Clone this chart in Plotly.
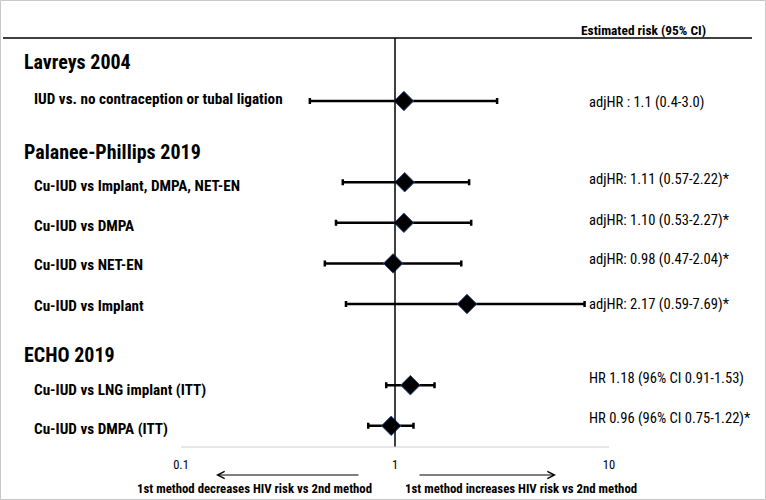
import plotly.graph_objects as go

# ---- data ----
studies = ["Lavreys 2004", "Palanee-Phillips 2019", "ECHO 2019"]
labels = [
    "IUD vs. no contraception or tubal ligation",
    "Cu-IUD vs Implant, DMPA, NET-EN",
    "Cu-IUD vs DMPA",
    "Cu-IUD vs NET-EN",
    "Cu-IUD vs Implant",
    "Cu-IUD vs LNG implant (ITT)",
    "Cu-IUD vs DMPA (ITT)",
]
hr = [1.1, 1.11, 1.10, 0.98, 2.17, 1.18, 0.96]
ci_low = [0.4, 0.57, 0.53, 0.47, 0.59, 0.91, 0.75]
ci_high = [3.0, 2.22, 2.27, 2.04, 7.69, 1.53, 1.22]
estimates = [
    "adjHR : 1.1 (0.4-3.0)",
    "adjHR: 1.11 (0.57-2.22)*",
    "adjHR: 1.10 (0.53-2.27)*",
    "adjHR: 0.98 (0.47-2.04)*",
    "adjHR: 2.17 (0.59-7.69)*",
    "HR 1.18 (96% CI 0.91-1.53)",
    "HR 0.96 (96% CI 0.75-1.22)*",
]
tick_vals = [0.1, 1, 10]
tick_text = ["0.1", "1", "10"]
header = "Estimated risk (95% CI)"
left_note = "1st method decreases HIV risk vs 2nd method"
right_note = "1st method increases HIV risk vs 2nd method"

# ---- layout helpers ----
row_slot = [1, 3, 4, 5, 6, 8, 9]
heading_slot = [0.04, 2.26, 7.26]
label_dy = [2, -4, -3, -2, -2, -5, -3]
est_dy = [-1, 3, 3, 4, 0, 7, 8]

W, H = 766, 500
MB = 53
PH = H - MB
FONT = "Liberation Sans Narrow, Roboto Condensed, Arial Narrow, Lato, sans-serif"

def ypaper(px):
    return 1 - px / PH

fig = go.Figure()
fig.add_trace(go.Scatter(
    x=hr, y=row_slot, mode="markers",
    marker=dict(symbol="diamond", size=15, color="black",
                line=dict(color="#2f4f8a", width=1)),
    error_x=dict(type="data", symmetric=False,
                 array=[h - m for h, m in zip(ci_high, hr)],
                 arrayminus=[m - l for m, l in zip(hr, ci_low)],
                 color="black", thickness=2.5, width=3),
    hoverinfo="skip", showlegend=False,
))

ann = []
for s, ys in zip(studies, heading_slot):
    ann.append(dict(x=22 / W, xref="paper", y=ys, yref="y", text="<b>" + s + "</b>",
                    showarrow=False, xanchor="left", yanchor="middle",
                    font=dict(size=20, color="black", family=FONT)))
for lab, ys, dy in zip(labels, row_slot, label_dy):
    ann.append(dict(x=32 / W, xref="paper", y=ys, yref="y", text="<b>" + lab + "</b>",
                    showarrow=False, xanchor="left", yanchor="middle", yshift=dy,
                    font=dict(size=15.2, color="black", family=FONT)))
for est, ys, dy in zip(estimates, row_slot, est_dy):
    ann.append(dict(x=587 / W, xref="paper", y=ys, yref="y", text=est,
                    showarrow=False, xanchor="left", yanchor="middle", yshift=dy,
                    font=dict(size=14.6, color="black", family=FONT)))
ann.append(dict(x=579 / W, xref="paper", y=ypaper(30), yref="paper", text="<b>" + header + "</b>",
                showarrow=False, xanchor="left", yanchor="middle",
                font=dict(size=13.4, color="black", family=FONT)))
ann.append(dict(x=254 / W, xref="paper", y=ypaper(488), yref="paper", text="<b>" + left_note + "</b>",
                showarrow=False, xanchor="center", yanchor="middle",
                font=dict(size=12.8, color="black", family=FONT)))
ann.append(dict(x=521 / W, xref="paper", y=ypaper(488), yref="paper", text="<b>" + right_note + "</b>",
                showarrow=False, xanchor="center", yanchor="middle",
                font=dict(size=12.8, color="black", family=FONT)))
# arrows
ann.append(dict(x=216 / W, xref="paper", y=ypaper(475), yref="paper", text="",
                showarrow=True, ax=144, ay=0, arrowhead=5, arrowsize=1.4,
                arrowwidth=1, arrowcolor="black"))
ann.append(dict(x=556 / W, xref="paper", y=ypaper(475), yref="paper", text="",
                showarrow=True, ax=-138, ay=0, arrowhead=5, arrowsize=1.4,
                arrowwidth=1, arrowcolor="black"))

shapes = [
    # top rule
    dict(type="line", xref="paper", yref="paper", x0=3 / W, x1=752 / W,
         y0=ypaper(38), y1=ypaper(38), line=dict(color="black", width=1.5)),
    # line of no effect
    dict(type="line", xref="x", yref="paper", x0=1, x1=1,
         y0=0, y1=ypaper(38), line=dict(color="black", width=1.5)),
    # axis line
    dict(type="line", xref="x", yref="paper", x0=0.1, x1=10,
         y0=0, y1=0, line=dict(color="#d0d0d0", width=1)),
    # frame
    dict(type="rect", xref="paper", yref="paper", x0=0.5 / W, x1=(W - 0.5) / W,
         y0=ypaper(H - 0.5), y1=ypaper(0.5), line=dict(color="#c8c8c8", width=1)),
]

r0 = -1 - 181 / 214
r1 = r0 + W / 214
k0 = (0 - 101) / 40.6 + 1
k1 = (PH - 101) / 40.6 + 1

fig.update_layout(
    width=W, height=H,
    margin=dict(l=0, r=0, t=0, b=MB),
    paper_bgcolor="white", plot_bgcolor="white",
    xaxis=dict(type="log", range=[r0, r1], tickvals=tick_vals, ticktext=tick_text,
               showgrid=False, zeroline=False, showline=False,
               ticks="outside", ticklen=6, tickcolor="rgba(0,0,0,0)",
               tickfont=dict(size=12.5, color="black", family=FONT), fixedrange=True),
    yaxis=dict(range=[k1, k0], showgrid=False, zeroline=False, showline=False,
               showticklabels=False, ticks="", fixedrange=True),
    annotations=ann, shapes=shapes,
)

fig.write_html("out.html", config={"displayModeBar": False},
               post_script="document.body.style.margin='0';document.body.style.overflow='hidden';")
